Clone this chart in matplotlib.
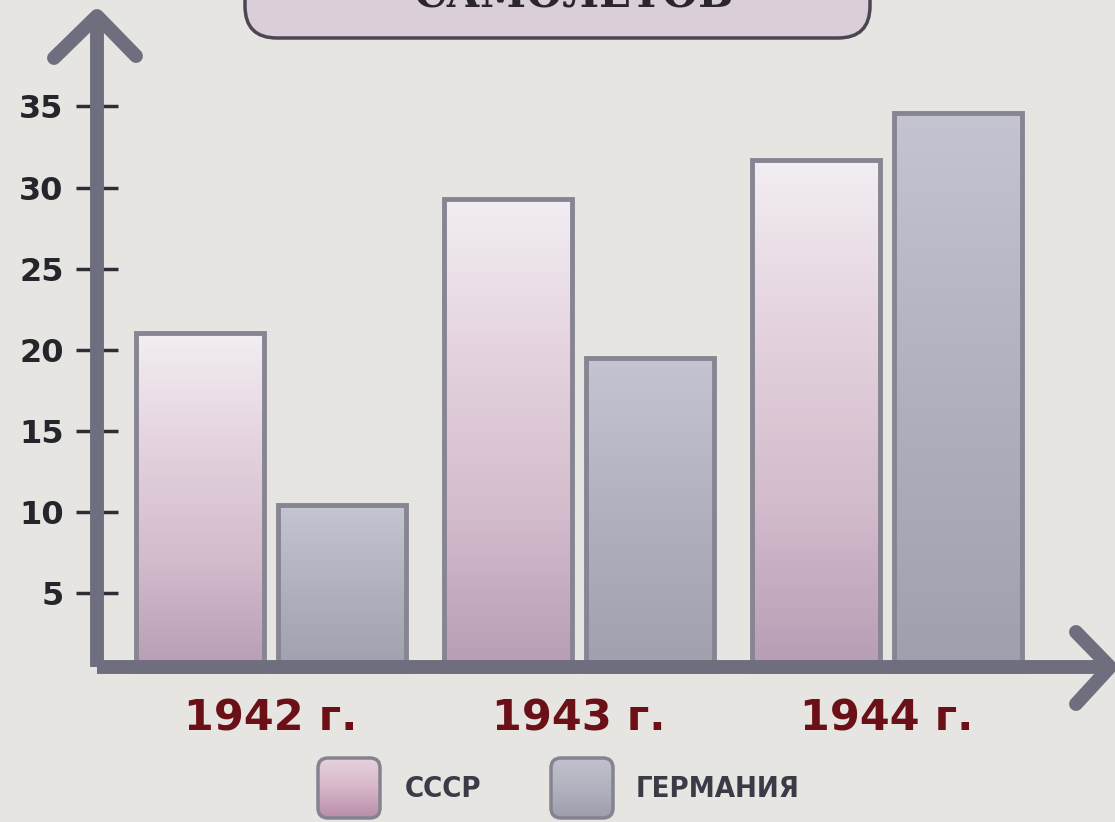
import numpy as np
import matplotlib.pyplot as plt
from matplotlib import font_manager
from matplotlib.colors import LinearSegmentedColormap
from matplotlib.patches import FancyBboxPatch

years = ['1942 г.', '1943 г.', '1944 г.']
ussr = [21.0, 29.3, 31.7]
germany = [10.4, 19.5, 34.6]
yticks = [5, 10, 15, 20, 25, 30, 35]
legend_names = ['СССР', 'ГЕРМАНИЯ']
title_text = 'САМОЛЕТОВ'

W, H = 1115, 822
AXIS_COL = '#6f6e7e'

pink_cmap = LinearSegmentedColormap.from_list(
    'pink', ['#b69cb3', '#d3bccc', '#e4d2de', '#f2eef3'])
grey_cmap = LinearSegmentedColormap.from_list(
    'grey', ['#a09fae', '#b1b0bf', '#c5c4d1'])
grad = np.linspace(0, 1, 256).reshape(-1, 1)


def find_condensed_bold():
    """Looks for a bold condensed face among installed fonts."""
    narrow = ('condensed', 'semi-condensed', 'extra-condensed', 'ultra-condensed')
    for f in font_manager.fontManager.ttflist:
        st = f.stretch
        is_narrow = (st in narrow) or (isinstance(st, (int, float)) and st < 500)
        is_narrow = is_narrow or 'Narrow' in f.name or 'Condensed' in f.name
        wt = f.weight
        is_bold = (isinstance(wt, (int, float)) and wt >= 700) or wt in ('bold', 'heavy', 'black')
        if is_narrow and is_bold and not f.fname.endswith('.otc'):
            return font_manager.FontProperties(fname=f.fname)
    return None


fig = plt.figure(figsize=(W / 100, H / 100), dpi=100)
fig.patch.set_facecolor('#e7e5e2')

# main axes: left edge on the y axis line, bottom at value 0
ax = fig.add_axes([97 / W, (H - 674) / H, 1014 / W, 660 / H])
ax.patch.set_alpha(0)
for s in ax.spines.values():
    s.set_visible(False)

x = np.arange(len(years))
w = 0.416
off = 0.2305


def gradient_bars(bars, cmap):
    for b in bars:
        x0, y0 = b.get_x(), b.get_y()
        im = ax.imshow(grad, extent=(x0, x0 + b.get_width(), y0, y0 + b.get_height()),
                       origin='lower', cmap=cmap, aspect='auto', zorder=2)
        im.set_clip_path(b)


b1 = ax.bar(x - off, ussr, w, facecolor='none', edgecolor='#878592',
            linewidth=3.5, zorder=3)
b2 = ax.bar(x + off, germany, w, facecolor='none', edgecolor='#878592',
            linewidth=3.5, zorder=3)
gradient_bars(b1, pink_cmap)
gradient_bars(b2, grey_cmap)

ax.set_xlim(-0.565, 2.727)
ax.set_ylim(0, 40.7)
ax.set_yticks(yticks)
ax.tick_params(axis='y', direction='inout', length=30, width=2.5,
               color='#2e2d35', pad=9, labelsize=23, labelcolor='#26252c')
for t in ax.get_yticklabels():
    t.set_fontweight('bold')
ax.set_xticks(x, years)
ax.tick_params(axis='x', length=0, pad=17)
for t in ax.get_xticklabels():
    t.set_fontweight('bold')
    t.set_fontsize(31)
    t.set_color('#6a1016')

# overlay in pixel coordinates for the decoration
ov = fig.add_axes([0, 0, 1, 1])
ov.set_xlim(0, W)
ov.set_ylim(H, 0)
ov.axis('off')
ov.patch.set_alpha(0)

# axis lines with chevron arrows
ov.plot([97, 97], [667, 18], color=AXIS_COL, lw=10, solid_capstyle='butt')
ov.plot([97, 1108], [667, 667], color=AXIS_COL, lw=10, solid_capstyle='butt')
ov.plot([54, 97, 136], [58, 16, 56], color=AXIS_COL, lw=10,
        solid_capstyle='round', solid_joinstyle='round')
ov.plot([1076, 1110, 1076], [632, 667, 704], color=AXIS_COL, lw=10,
        solid_capstyle='round', solid_joinstyle='round')

# title box cut off at the top
box = FancyBboxPatch((245, -70), 625, 108, boxstyle='round,pad=0,rounding_size=32',
                     facecolor='#dacfd9', edgecolor='#4b4651', lw=2.5)
ov.add_patch(box)
ov.text(573, 7, title_text, ha='center', va='baseline', fontsize=30,
        fontweight='bold', family='DejaVu Serif', color='#2b2530')

# legend
cond = find_condensed_bold()
sw_cmaps = [LinearSegmentedColormap.from_list('lp', ['#b88da7', '#d8b7c9', '#e6d3de']),
            LinearSegmentedColormap.from_list('lg', ['#9e9dad', '#b3b2c0', '#c2c1cd'])]
sw_x = [318, 551]
tx_x = [405, 636]
for sx, tx, cm, name in zip(sw_x, tx_x, sw_cmaps, legend_names):
    p = FancyBboxPatch((sx, 758), 62, 60, boxstyle='round,pad=0,rounding_size=10',
                       facecolor='none', edgecolor='#85838f', lw=2.5, zorder=3)
    ov.add_patch(p)
    im = ov.imshow(grad, extent=(sx, sx + 62, 818, 758), origin='lower',
                   cmap=cm, aspect='auto', zorder=2)
    im.set_clip_path(p)
    if cond is not None:
        ov.text(tx, 789, name, ha='left', va='center', fontproperties=cond,
                fontsize=21, color='#3b3a47')
    else:
        ov.text(tx, 789, name, ha='left', va='center', fontsize=19,
                fontweight='bold', color='#3b3a47')
ov.set_xlim(0, W)
ov.set_ylim(H, 0)

fig.savefig('out.png', dpi=100, facecolor=fig.get_facecolor())
